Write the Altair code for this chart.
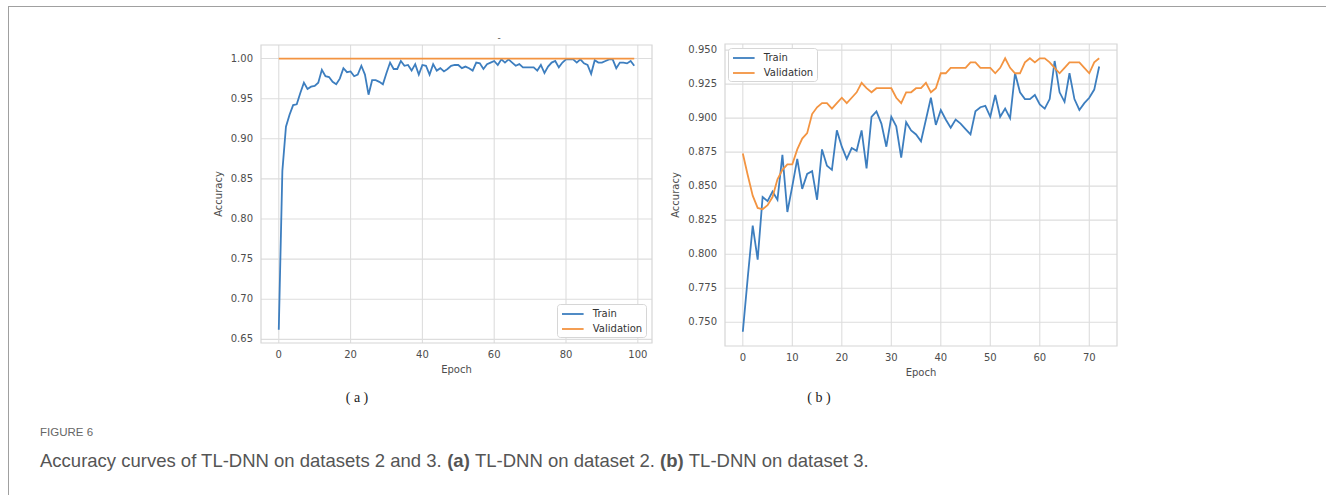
import altair as alt
import pandas as pd

# ---------------- data ----------------
epochs_a = list(range(100))
train_a = [0.662, 0.860, 0.915, 0.930, 0.942, 0.943, 0.957, 0.970, 0.962, 0.965,
           0.966, 0.970, 0.986, 0.978, 0.977, 0.971, 0.968, 0.975, 0.988, 0.983,
           0.984, 0.978, 0.980, 0.991, 0.980, 0.955, 0.973, 0.973, 0.971, 0.968,
           0.982, 0.995, 0.987, 0.987, 0.997, 0.991, 0.992, 0.985, 0.993, 0.980,
           0.992, 0.991, 0.980, 0.993, 0.985, 0.988, 0.984, 0.987, 0.991, 0.992,
           0.992, 0.988, 0.990, 0.988, 0.985, 0.995, 0.994, 0.987, 0.993, 0.995,
           0.997, 0.992, 0.999, 0.995, 0.999, 0.995, 0.991, 0.993, 0.989, 0.989,
           0.989, 0.989, 0.985, 0.992, 0.982, 0.990, 0.995, 0.997, 0.989, 0.995,
           0.999, 0.999, 0.999, 0.995, 0.999, 0.994, 0.992, 0.981, 0.998, 0.995,
           0.995, 0.997, 0.999, 0.999, 0.988, 0.995, 0.995, 0.994, 0.997, 0.991]
val_a = [1.0, 1.0, 1.0, 1.0, 1.0, 1.0, 1.0, 1.0, 1.0, 1.0,
         1.0, 1.0, 1.0, 1.0, 1.0, 1.0, 1.0, 1.0, 1.0, 1.0,
         1.0, 1.0, 1.0, 1.0, 1.0, 1.0, 1.0, 1.0, 1.0, 1.0,
         1.0, 1.0, 1.0, 1.0, 1.0, 1.0, 1.0, 1.0, 1.0, 1.0,
         1.0, 1.0, 1.0, 1.0, 1.0, 1.0, 1.0, 1.0, 1.0, 1.0,
         1.0, 1.0, 1.0, 1.0, 1.0, 1.0, 1.0, 1.0, 1.0, 1.0,
         1.0, 1.0, 1.0, 1.0, 1.0, 1.0, 1.0, 1.0, 1.0, 1.0,
         1.0, 1.0, 1.0, 1.0, 1.0, 1.0, 1.0, 1.0, 1.0, 1.0,
         1.0, 1.0, 1.0, 1.0, 1.0, 1.0, 1.0, 1.0, 1.0, 1.0,
         1.0, 1.0, 1.0, 1.0, 1.0, 1.0, 1.0, 1.0, 1.0, 1.0]

epochs_b = list(range(73))
train_b = [0.743, 0.783, 0.821, 0.796, 0.842, 0.839, 0.846, 0.840, 0.873, 0.831,
           0.850, 0.870, 0.848, 0.859, 0.861, 0.840, 0.877, 0.865, 0.862, 0.891,
           0.879, 0.870, 0.878, 0.876, 0.891, 0.863, 0.901, 0.905, 0.896, 0.879,
           0.901, 0.894, 0.871, 0.897, 0.891, 0.888, 0.883, 0.899, 0.915, 0.895,
           0.906, 0.899, 0.893, 0.899, 0.896, 0.892, 0.888, 0.905, 0.908, 0.909,
           0.901, 0.917, 0.901, 0.907, 0.900, 0.933, 0.919, 0.914, 0.914, 0.917,
           0.910, 0.907, 0.914, 0.942, 0.919, 0.912, 0.933, 0.914, 0.906, 0.911,
           0.915, 0.921, 0.938]
val_b = [0.874, 0.858, 0.843, 0.834, 0.833, 0.836, 0.842, 0.855, 0.862, 0.866,
         0.866, 0.877, 0.885, 0.889, 0.903, 0.908, 0.911, 0.911, 0.907, 0.911,
         0.915, 0.911, 0.915, 0.919, 0.926, 0.922, 0.919, 0.922, 0.922, 0.922,
         0.922, 0.915, 0.911, 0.919, 0.919, 0.922, 0.922, 0.926, 0.919, 0.922,
         0.933, 0.933, 0.937, 0.937, 0.937, 0.937, 0.941, 0.941, 0.937, 0.937,
         0.937, 0.933, 0.937, 0.944, 0.937, 0.933, 0.933, 0.941, 0.944, 0.941,
         0.944, 0.944, 0.941, 0.937, 0.933, 0.937, 0.941, 0.941, 0.941, 0.937,
         0.933, 0.941, 0.944]

series_names = ["Train", "Validation"]
x_ticks_a = [0, 20, 40, 60, 80, 100]
x_labels_a = ["0", "20", "40", "60", "80", "100"]
y_ticks_a = [0.65, 0.70, 0.75, 0.80, 0.85, 0.90, 0.95, 1.00]
y_labels_a = ["0.65", "0.70", "0.75", "0.80", "0.85", "0.90", "0.95", "1.00"]
x_ticks_b = [0, 10, 20, 30, 40, 50, 60, 70]
x_labels_b = ["0", "10", "20", "30", "40", "50", "60", "70"]
y_ticks_b = [0.750, 0.775, 0.800, 0.825, 0.850, 0.875, 0.900, 0.925, 0.950]
y_labels_b = ["0.750", "0.775", "0.800", "0.825", "0.850", "0.875", "0.900", "0.925", "0.950"]

# ---------------- styling ----------------
BLUE = "#3d7ebf"
ORANGE = "#f39441"
GRID = "#dddddd"
TEXT = "#4d4d4d"
FONT = "DejaVu Sans"
W, H = 1326, 495


def panel(epochs, train, val, xdom, ydom, xrng, yrng, xticks, xlabels, yticks, ylabels,
          ytitle_shift, lx, ly):
    df = pd.DataFrame({
        "Epoch": list(epochs) + list(epochs),
        "Accuracy": list(train) + list(val),
        "Series": ["Train"] * len(train) + ["Validation"] * len(val),
    })
    xs = alt.Scale(domain=xdom, range=xrng, nice=False, zero=False)
    ys = alt.Scale(domain=ydom, range=yrng, nice=False, zero=False)
    xt = pd.DataFrame({"t": xticks, "lab": xlabels})
    yt = pd.DataFrame({"t": yticks, "lab": ylabels})

    vgrid = alt.Chart(xt).mark_rule(color=GRID, strokeWidth=1.1).encode(
        x=alt.X("t:Q", scale=xs, axis=None),
        y=alt.YDatum(ydom[0], scale=ys, axis=None),
        y2=alt.Y2Datum(ydom[1]),
    )
    hgrid = alt.Chart(yt).mark_rule(color=GRID, strokeWidth=1.1).encode(
        y=alt.Y("t:Q", scale=ys, axis=None),
        x=alt.XDatum(xdom[0], scale=xs, axis=None),
        x2=alt.X2Datum(xdom[1]),
    )
    frame = alt.Chart(pd.DataFrame({"k": [0]})).mark_rect(
        fillOpacity=0, stroke="#d6d6d6", strokeWidth=1.2
    ).encode(
        x=alt.XDatum(xdom[0], scale=xs, axis=None),
        x2=alt.X2Datum(xdom[1]),
        y=alt.YDatum(ydom[0], scale=ys, axis=None),
        y2=alt.Y2Datum(ydom[1]),
    )
    xlab = alt.Chart(xt).mark_text(
        font=FONT, fontSize=10, color=TEXT, align="center", baseline="middle", dy=11.5
    ).encode(
        x=alt.X("t:Q", scale=xs, axis=None),
        y=alt.YDatum(ydom[0], scale=ys, axis=None),
        text="lab:N",
    )
    ylab = alt.Chart(yt).mark_text(
        font=FONT, fontSize=10, color=TEXT, align="right", baseline="middle", dx=-8
    ).encode(
        y=alt.Y("t:Q", scale=ys, axis=None),
        x=alt.XDatum(xdom[0], scale=xs, axis=None),
        text="lab:N",
    )
    xtitle = alt.Chart(pd.DataFrame({"lab": ["Epoch"]})).mark_text(
        font=FONT, fontSize=10, color=TEXT, align="center", baseline="middle", dy=26.5
    ).encode(
        x=alt.XDatum((xdom[0] + xdom[1]) / 2, scale=xs, axis=None),
        y=alt.YDatum(ydom[0], scale=ys, axis=None),
        text="lab:N",
    )
    ytitle = alt.Chart(pd.DataFrame({"lab": ["Accuracy"]})).mark_text(
        font=FONT, fontSize=10, color=TEXT, align="center", baseline="middle",
        angle=270, dy=ytitle_shift
    ).encode(
        x=alt.XDatum(xdom[0], scale=xs, axis=None),
        y=alt.YDatum((ydom[0] + ydom[1]) / 2, scale=ys, axis=None),
        text="lab:N",
    )
    lines = alt.Chart(df).mark_line(strokeWidth=1.8).encode(
        x=alt.X("Epoch:Q", scale=xs, axis=None),
        y=alt.Y("Accuracy:Q", scale=ys, axis=None),
        color=alt.Color("Series:N",
                        scale=alt.Scale(domain=series_names, range=[BLUE, ORANGE]),
                        legend=alt.Legend(title=None, orient="none", legendX=lx, legendY=ly)),
    )
    return alt.layer(vgrid, hgrid, frame, xlab, ylab, xtitle, ytitle, lines)


panel_a = panel(epochs_a, train_a, val_a, [-4.95, 103.95], [0.6455, 1.0169],
                [261, 652], [343, 45], x_ticks_a, x_labels_a, y_ticks_a, y_labels_a,
                -41.7, 557, 304)
panel_b = panel(epochs_b, train_b, val_b, [-3.6, 75.6], [0.7325, 0.9545],
                [725, 1117], [346, 44], x_ticks_b, x_labels_b, y_ticks_b, y_labels_b,
                -49, 728, 48)


def label(text, x, y, size, font, color, weight="normal", align="left"):
    return alt.Chart().mark_text(
        text=text, font=font, fontSize=size, color=color, fontWeight=weight,
        align=align, baseline="middle"
    ).encode(x=alt.value(x), y=alt.value(y))


border_top = alt.Chart().mark_rule(color="#a0a0a0", strokeWidth=1).encode(
    x=alt.value(8), x2=alt.value(W), y=alt.value(6.5))
border_left = alt.Chart().mark_rule(color="#a0a0a0", strokeWidth=1).encode(
    x=alt.value(8.5), y=alt.value(6), y2=alt.value(H))

CAP = "Liberation Sans"
CAPC = "#555555"
CS = 18.5
annotations = [
    border_top, border_left,
    label("-", 499, 38, 9, FONT, TEXT, align="center"),
    label("( a )", 357, 398, 14, "Liberation Serif", "#222222", align="center"),
    label("( b )", 819, 398, 14, "Liberation Serif", "#222222", align="center"),
    label("FIGURE 6", 40, 433, 11.5, CAP, "#666666"),
    label("Accuracy curves of TL-DNN on datasets 2 and 3.", 40, 461, CS, CAP, CAPC),
    label("(a)", 447.2, 461, CS, CAP, CAPC, weight="bold"),
    label("TL-DNN on dataset 2.", 475.0, 461, CS, CAP, CAPC),
    label("(b)", 660.0, 461, CS, CAP, CAPC, weight="bold"),
    label("TL-DNN on dataset 3.", 688.8, 461, CS, CAP, CAPC),
]

chart = alt.layer(panel_a, panel_b, *annotations).resolve_scale(
    x="independent", y="independent", color="independent"
).properties(
    width=W, height=H, padding=0, background="white",
    autosize=alt.AutoSizeParams(type="none"),
).configure_view(
    stroke=None
).configure_legend(
    labelFont=FONT, labelFontSize=10, labelColor="#333333",
    symbolType="M-1.8,0H1.8", symbolSize=144, symbolStrokeWidth=1.8,
    symbolOffset=5.8, labelOffset=13, padding=3, rowPadding=3,
    fillColor="white", strokeColor="#d6d6d6", cornerRadius=3,
)

chart.save("out.html", embed_options={"renderer": "svg", "actions": False})
